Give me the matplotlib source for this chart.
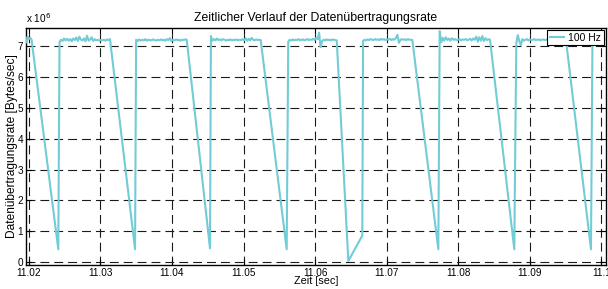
import numpy as np
import matplotlib
matplotlib.use("Agg")
import matplotlib.pyplot as plt

plt.rcParams['font.family'] = ['Liberation Sans', 'DejaVu Sans']

# ---- data (rate in units of 1e6 Bytes/sec) ----
plateau_start = [11.01965, 11.0243, 11.0350, 11.04545, 11.05625, 11.0667, 11.0774, 11.0881, 11.09874]
plateau_end = [11.0204, 11.03135, 11.04207, 11.05240, 11.06302, 11.07358, 11.08443, 11.09504, 11.1006]
dip_time = [11.02413, 11.03485, 11.04532, 11.05603, 11.06464, 11.07721, 11.08782, 11.09853]
dip_value = [0.42, 0.42, 0.45, 0.42, 0.04, 0.42, 0.42, 0.42]
recovery_time = 11.06659
recovery_value = 0.86
recovery_after_dip = 4

plateau_values = [
    [7.12, 7.3, 7.22, 7.26, 7.2],
    [7.12, 7.2, 7.16, 7.24, 7.18, 7.23, 7.17, 7.22, 7.15, 7.24, 7.19, 7.27, 7.16, 7.3, 7.2, 7.18, 7.24,
     7.15, 7.33, 7.17, 7.21, 7.28, 7.16, 7.22, 7.18, 7.2, 7.17, 7.19, 7.18, 7.2, 7.17, 7.21, 7.19, 7.22],
    [7.2, 7.16, 7.21, 7.17, 7.2, 7.18, 7.22, 7.17, 7.2, 7.19, 7.18, 7.21, 7.19, 7.17, 7.2, 7.18, 7.21,
     7.19, 7.2, 7.17, 7.22, 7.19, 7.25, 7.16, 7.2, 7.18, 7.21, 7.19, 7.2, 7.17, 7.2, 7.19, 7.21, 7.2],
    [7.32, 7.17, 7.22, 7.18, 7.24, 7.19, 7.21, 7.18, 7.22, 7.2, 7.17, 7.2, 7.19, 7.21, 7.18, 7.2, 7.19,
     7.21, 7.18, 7.2, 7.19, 7.22, 7.18, 7.25, 7.17, 7.23, 7.18, 7.26, 7.2, 7.18, 7.21, 7.19, 7.2, 7.19],
    [7.14, 7.2, 7.17, 7.21, 7.18, 7.2, 7.19, 7.22, 7.18, 7.2, 7.21, 7.18, 7.2, 7.22, 7.19, 7.21, 7.2,
     7.23, 7.19, 7.26, 7.22, 7.43, 6.96, 7.15, 7.2, 7.18, 7.21, 7.19, 7.2, 7.18, 7.21, 7.2, 7.19, 7.18],
    [7.16, 7.2, 7.18, 7.21, 7.19, 7.22, 7.2, 7.19, 7.22, 7.2, 7.21, 7.19, 7.23, 7.2, 7.22, 7.19, 7.21,
     7.2, 7.23, 7.19, 7.22, 7.2, 7.26, 7.36, 7.1, 7.19, 7.22, 7.2, 7.21, 7.19, 7.22, 7.2, 7.2, 7.19],
    [7.48, 7.12, 7.26, 7.17, 7.28, 7.19, 7.24, 7.17, 7.25, 7.2, 7.22, 7.19, 7.2, 7.22, 7.18, 7.21, 7.2,
     7.22, 7.19, 7.2, 7.23, 7.18, 7.24, 7.2, 7.3, 7.14, 7.28, 7.17, 7.32, 7.16, 7.25, 7.19, 7.22, 7.2],
    [7.08, 7.35, 7.16, 7.02, 7.22, 7.17, 7.2, 7.22, 7.18, 7.21, 7.19, 7.2, 7.22, 7.19, 7.2, 7.21, 7.18,
     7.2, 7.21, 7.19, 7.2, 7.22, 7.18, 7.2, 7.21, 7.19, 7.2, 7.2, 7.18, 7.21, 7.19, 7.2, 7.2, 7.19],
    [7.2, 7.17, 7.22, 7.19, 7.21],
]

x_ticks = [11.02, 11.03, 11.04, 11.05, 11.06, 11.07, 11.08, 11.09, 11.10]
x_tick_labels = ['11.02', '11.03', '11.04', '11.05', '11.06', '11.07', '11.08', '11.09', '11.1']
y_ticks = [0, 1, 2, 3, 4, 5, 6, 7]

# ---- build series ----
t, r = [], []
for i, vals in enumerate(plateau_values):
    ts = np.linspace(plateau_start[i], plateau_end[i], len(vals))
    t.extend(ts)
    r.extend(vals)
    if i < len(dip_time):
        t.append(dip_time[i])
        r.append(dip_value[i])
        if i == recovery_after_dip:
            t.append(recovery_time)
            r.append(recovery_value)

fig = plt.figure(figsize=(6.08, 2.89), dpi=100)
ax = fig.add_axes([26/608, 24/289, 580/608, 237/289])

ax.plot(t, r, color='#72CCD6', lw=1.5, label='100 Hz', zorder=3)

ax.set_xlim(11.01962, 11.10063)
ax.set_ylim(-0.09, 7.58)
ax.set_xticks(x_ticks)
ax.set_xticklabels(x_tick_labels)
ax.set_yticks(y_ticks)

ax.grid(True, color='#1a1a1a', lw=0.8, linestyle=(0, (8, 4.5)))
ax.tick_params(direction='in', top=True, right=True, length=4, width=0.8,
               labelsize=7.2, pad=2)
for s in ax.spines.values():
    s.set_linewidth(1.0)
    s.set_color('black')

ax.set_title('Zeitlicher Verlauf der Datenübertragungsrate', fontsize=8.8, pad=5)
ax.set_xlabel('Zeit [sec]', fontsize=7.8, labelpad=-1)
ax.set_ylabel('Datenübertragungsrate [Bytes/sec]', fontsize=8.6, labelpad=0)
ax.text(0.0, 1.012, r'x 10$^6$', transform=ax.transAxes, fontsize=7.2,
        ha='left', va='bottom')

leg = ax.legend(loc='upper right', fontsize=7.5, fancybox=False, framealpha=1,
                edgecolor='black', borderpad=0.25, handlelength=1.4,
                borderaxespad=0.2, handletextpad=0.4)
leg.get_frame().set_linewidth(0.8)

fig.savefig('out.png', dpi=100)
